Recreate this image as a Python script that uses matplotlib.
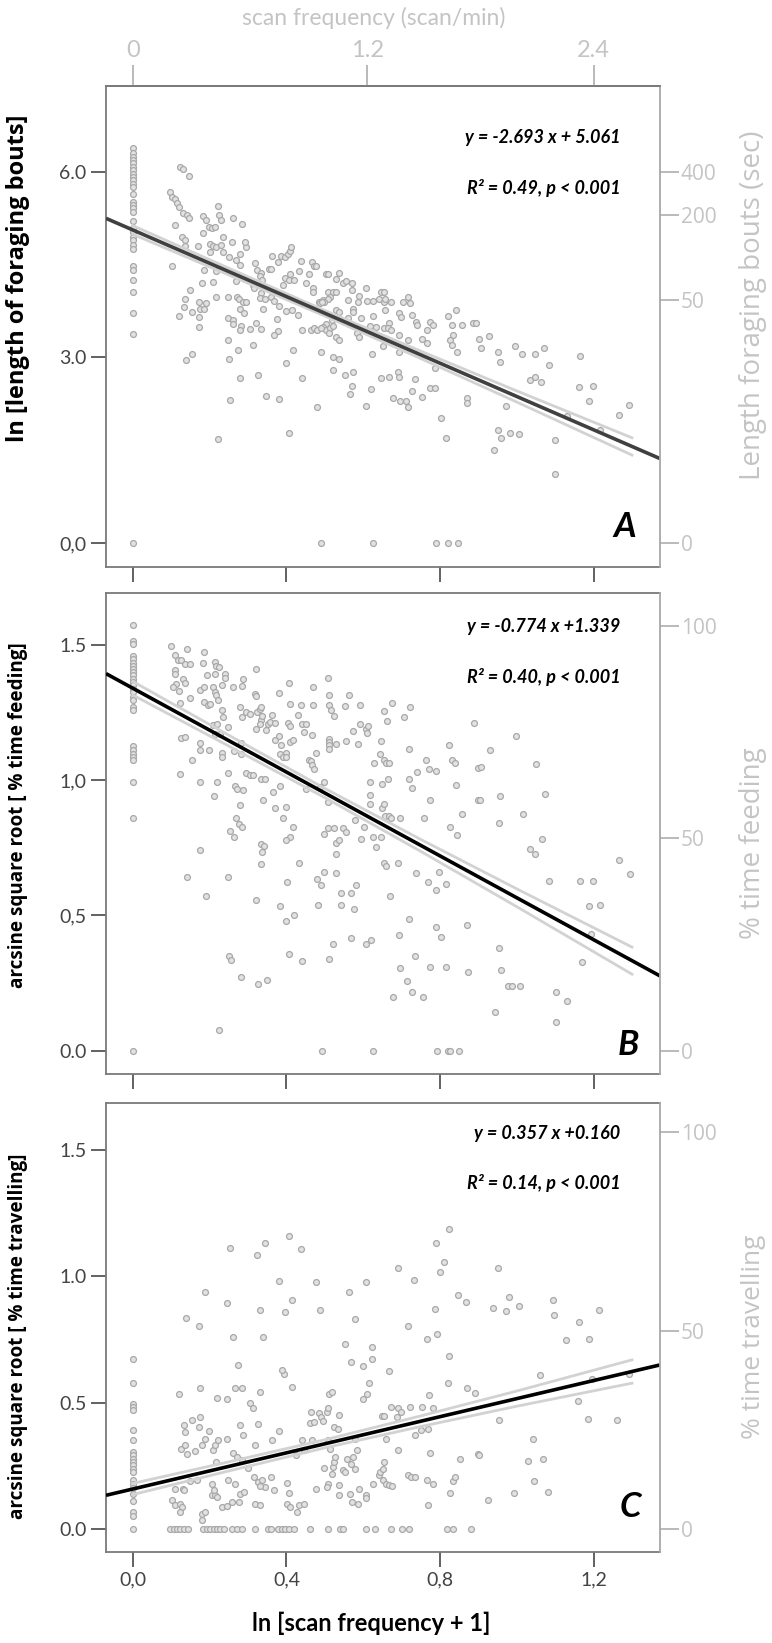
import numpy as np
import matplotlib.pyplot as plt

# ---------------- data ----------------
# x axis: ln[scan frequency + 1]

# panel A : ln[length of foraging bouts]
a_y_at_x0 = [6.38, 6.30, 6.24, 6.19, 6.14, 6.08, 6.03, 5.97, 5.92, 5.87, 5.81, 5.75, 5.65,
             5.52, 5.46, 5.41, 5.36, 5.21, 5.09, 5.03, 4.95, 4.90, 4.82, 4.75, 4.48, 4.41,
             4.25, 4.05, 3.72, 3.38, 0.0]
a_x_at_y0 = [0.491, 0.625, 0.790, 0.821, 0.847]
a_pts = [
    (0.122, 6.08), (0.130, 6.05), (0.145, 5.94), (0.098, 5.68), (0.102, 5.60), (0.109, 5.57),
    (0.114, 5.49), (0.120, 5.43), (0.130, 5.33), (0.140, 5.30), (0.147, 5.25), (0.109, 5.14),
    (0.128, 4.95), (0.135, 4.90), (0.137, 4.81), (0.102, 4.48),
    (0.182, 5.29), (0.191, 5.22), (0.198, 5.11), (0.206, 5.09), (0.215, 5.11), (0.221, 5.45),
    (0.224, 5.31), (0.230, 5.22), (0.182, 5.01), (0.170, 4.81), (0.200, 4.83), (0.208, 4.81),
    (0.217, 4.79), (0.202, 4.71), (0.230, 4.82), (0.236, 4.95), (0.260, 5.26), (0.285, 5.16),
    (0.259, 4.86), (0.234, 4.70), (0.250, 4.62), (0.269, 4.57), (0.278, 4.68), (0.295, 4.79),
    (0.291, 4.87), (0.184, 4.42), (0.217, 4.39), (0.208, 4.22), (0.181, 4.20), (0.148, 4.09),
    (0.135, 3.94), (0.133, 3.81), (0.120, 3.67), (0.153, 3.73), (0.172, 3.90), (0.191, 3.88),
    (0.175, 3.78), (0.186, 3.78), (0.172, 3.66), (0.172, 3.49), (0.139, 2.96), (0.153, 3.05),
    (0.217, 3.97), (0.247, 3.97), (0.221, 1.68),
    (0.269, 4.24), (0.278, 4.49), (0.272, 3.98), (0.276, 3.94), (0.286, 3.89), (0.295, 3.90),
    (0.280, 3.78), (0.289, 3.72), (0.247, 3.64), (0.262, 3.60), (0.262, 3.54), (0.282, 3.51),
    (0.278, 3.44), (0.304, 3.46), (0.247, 3.28), (0.250, 2.98), (0.275, 3.12), (0.313, 3.20),
    (0.280, 2.66), (0.254, 2.31), (0.326, 2.71), (0.346, 2.38), (0.380, 2.33), (0.406, 1.77),
    (0.400, 2.91), (0.417, 3.12), (0.440, 2.67), (0.479, 2.19), (0.489, 3.08), (0.521, 3.01),
    (0.537, 2.97), (0.521, 2.79), (0.553, 2.71), (0.573, 2.77), (0.571, 2.54), (0.566, 2.41),
    (0.608, 2.21), (0.620, 2.49), (0.623, 3.06), (0.645, 2.66), (0.667, 2.69), (0.690, 2.77),
    (0.692, 2.68), (0.677, 2.35), (0.695, 2.30),
    (0.319, 4.52), (0.324, 4.41), (0.335, 4.36), (0.330, 4.31), (0.337, 4.25), (0.362, 4.64),
    (0.354, 4.43), (0.360, 4.43), (0.378, 4.54), (0.387, 4.64), (0.395, 4.63), (0.404, 4.68),
    (0.408, 4.72), (0.412, 4.79), (0.439, 4.56), (0.466, 4.54), (0.472, 4.48), (0.478, 4.48),
    (0.460, 4.35), (0.434, 4.40), (0.410, 4.35), (0.395, 4.29), (0.406, 4.25), (0.419, 4.25),
    (0.392, 4.17), (0.450, 4.21), (0.313, 4.17), (0.315, 4.12), (0.334, 4.04), (0.330, 3.96),
    (0.343, 3.94), (0.360, 3.97), (0.367, 3.92), (0.380, 3.83), (0.400, 3.75), (0.414, 3.77),
    (0.430, 3.69), (0.339, 3.78), (0.375, 3.62), (0.378, 3.42), (0.367, 3.36), (0.334, 3.46),
    (0.321, 3.55), (0.441, 3.44), (0.465, 3.44), (0.473, 3.47), (0.469, 4.12), (0.469, 4.05),
    (0.486, 3.89), (0.495, 3.93), (0.504, 4.35), (0.508, 4.35), (0.536, 4.37), (0.528, 4.27),
    (0.547, 4.21), (0.556, 4.23), (0.571, 4.21), (0.508, 4.06), (0.521, 4.05), (0.528, 4.05),
    (0.514, 3.98), (0.508, 3.94), (0.498, 3.89), (0.488, 3.88), (0.492, 3.90), (0.561, 3.93),
    (0.571, 4.09), (0.573, 3.79), (0.573, 3.74), (0.589, 3.99), (0.586, 3.90), (0.608, 4.13),
    (0.610, 3.91), (0.625, 3.91), (0.641, 3.94), (0.647, 4.05), (0.653, 4.06), (0.655, 3.90),
    (0.658, 3.77), (0.673, 3.89), (0.658, 3.95), (0.625, 3.67), (0.593, 3.63), (0.560, 3.63),
    (0.530, 3.76), (0.537, 3.73), (0.518, 3.61), (0.502, 3.54), (0.495, 3.49), (0.504, 3.44),
    (0.514, 3.47), (0.521, 3.50), (0.529, 3.33), (0.538, 3.28), (0.479, 3.44), (0.490, 3.47),
    (0.510, 3.39), (0.583, 3.39), (0.589, 3.33), (0.617, 3.51), (0.634, 3.49), (0.653, 3.47),
    (0.667, 3.55), (0.664, 3.47), (0.673, 3.44), (0.651, 3.18), (0.693, 3.36), (0.693, 3.09),
    (0.692, 3.72), (0.699, 3.65),
    (0.717, 3.97), (0.722, 3.88), (0.704, 3.90), (0.726, 3.69), (0.737, 3.58), (0.739, 3.53),
    (0.717, 3.28), (0.753, 3.29), (0.765, 3.44), (0.774, 3.58), (0.783, 3.53), (0.765, 3.23),
    (0.822, 3.67), (0.841, 3.76), (0.830, 3.53), (0.856, 3.53), (0.835, 3.36), (0.826, 3.28),
    (0.830, 3.20), (0.843, 3.09), (0.885, 3.55), (0.894, 3.56), (0.902, 3.29), (0.906, 3.15),
    (0.928, 3.34), (0.952, 3.09), (0.955, 2.93), (0.995, 3.18), (1.013, 3.06), (1.047, 3.06),
    (1.072, 3.15), (1.084, 2.87), (1.165, 3.02), (1.162, 2.52), (1.198, 2.53), (1.189, 2.30),
    (1.265, 2.07), (1.293, 2.23), (0.735, 2.65), (0.726, 2.45), (0.711, 2.30), (0.717, 2.20),
    (0.752, 2.36), (0.774, 2.50), (0.787, 2.50), (0.787, 2.83), (0.803, 2.02), (0.815, 1.70),
    (0.871, 2.34), (0.871, 2.26), (0.973, 2.22), (1.034, 2.64), (1.047, 2.69), (1.062, 2.61),
    (0.952, 1.83), (0.960, 1.70), (0.982, 1.78), (1.007, 1.76), (0.941, 1.50), (1.099, 1.66),
    (1.099, 1.12), (1.130, 2.05), (1.217, 1.83),
]

# panel B : arcsine square root [% time feeding]
b_y_at_x0 = [1.571, 1.512, 1.504, 1.458, 1.446, 1.433, 1.421, 1.411, 1.399, 1.387, 1.374,
             1.362, 1.350, 1.338, 1.325, 1.307, 1.294, 1.270, 1.258, 1.126, 1.110, 1.098,
             1.085, 1.073, 0.993, 0.858, 0.0]
b_x_at_y0 = [0.492, 0.625, 0.792, 0.821, 0.825, 0.849]
b_pts = [
    (0.100, 1.494), (0.110, 1.461), (0.117, 1.445), (0.125, 1.442), (0.135, 1.430), (0.148, 1.430),
    (0.141, 1.485), (0.109, 1.408), (0.109, 1.393), (0.113, 1.354), (0.104, 1.344), (0.120, 1.329),
    (0.130, 1.374), (0.137, 1.358), (0.122, 1.285), (0.126, 1.157), (0.135, 1.159), (0.122, 1.024),
    (0.155, 1.073), (0.149, 1.304), (0.184, 1.473), (0.182, 1.432), (0.174, 1.334), (0.184, 1.344),
    (0.194, 1.387), (0.215, 1.436), (0.217, 1.420), (0.224, 1.416), (0.213, 1.393), (0.208, 1.344),
    (0.213, 1.325), (0.217, 1.313), (0.221, 1.294), (0.233, 1.350), (0.239, 1.390), (0.239, 1.378),
    (0.262, 1.344), (0.286, 1.374), (0.285, 1.346), (0.185, 1.288), (0.195, 1.276), (0.202, 1.282),
    (0.208, 1.202), (0.219, 1.208), (0.215, 1.171), (0.226, 1.171), (0.232, 1.260), (0.234, 1.233),
    (0.249, 1.196), (0.174, 1.137), (0.175, 1.110), (0.199, 1.112), (0.233, 1.100), (0.232, 1.085),
    (0.263, 1.106), (0.281, 1.098), (0.282, 1.138), (0.278, 1.270), (0.285, 1.233), (0.294, 1.251),
    (0.304, 1.243), (0.319, 1.317), (0.321, 1.309), (0.321, 1.411), (0.323, 1.251), (0.330, 1.264),
    (0.334, 1.270), (0.334, 1.221), (0.332, 1.208), (0.337, 1.236), (0.352, 1.208), (0.356, 1.214),
    (0.362, 1.239), (0.369, 1.212), (0.321, 1.190), (0.347, 1.184), (0.381, 1.322), (0.406, 1.358),
    (0.408, 1.282), (0.404, 1.212), (0.410, 1.200), (0.430, 1.239), (0.437, 1.276), (0.441, 1.206),
    (0.450, 1.208), (0.445, 1.178), (0.469, 1.276), (0.469, 1.344), (0.508, 1.378), (0.511, 1.313),
    (0.512, 1.276), (0.517, 1.258), (0.524, 1.235), (0.511, 1.153), (0.512, 1.141), (0.512, 1.128),
    (0.512, 1.116), (0.528, 1.132), (0.552, 1.274), (0.563, 1.315), (0.556, 1.144), (0.586, 1.134),
    (0.591, 1.276), (0.591, 1.206), (0.608, 1.190), (0.611, 1.174), (0.612, 1.200), (0.573, 1.181),
    (0.369, 1.147), (0.380, 1.162), (0.386, 1.128), (0.400, 1.100), (0.410, 1.141), (0.417, 1.147),
    (0.382, 1.098), (0.390, 1.085), (0.400, 1.085), (0.334, 1.005), (0.343, 1.005), (0.382, 0.977),
    (0.365, 0.956), (0.371, 0.897), (0.339, 0.928), (0.400, 0.901), (0.392, 0.861), (0.417, 0.827),
    (0.410, 0.790), (0.400, 0.780), (0.334, 0.765), (0.341, 0.755), (0.336, 0.735), (0.334, 0.689),
    (0.320, 0.556), (0.269, 0.858), (0.276, 0.839), (0.285, 0.827), (0.252, 0.812), (0.263, 0.790),
    (0.249, 0.642), (0.278, 0.907), (0.265, 0.977), (0.272, 0.968), (0.286, 0.965), (0.247, 1.026),
    (0.295, 1.027), (0.304, 1.018), (0.313, 1.018), (0.211, 0.940), (0.219, 0.993), (0.175, 0.993),
    (0.175, 0.741), (0.141, 0.640), (0.191, 0.571), (0.250, 0.349), (0.256, 0.337), (0.282, 0.271),
    (0.326, 0.246), (0.349, 0.261), (0.224, 0.076), (0.382, 0.535), (0.400, 0.479), (0.419, 0.503),
    (0.406, 0.356), (0.441, 0.332), (0.433, 0.692), (0.402, 0.624), (0.452, 0.968), (0.459, 1.075),
    (0.464, 1.069), (0.467, 1.055), (0.471, 1.039), (0.476, 1.100), (0.466, 1.165), (0.499, 0.993),
    (0.488, 0.975), (0.508, 0.919), (0.499, 0.802), (0.508, 0.824), (0.523, 0.824), (0.528, 0.768),
    (0.537, 0.778), (0.547, 0.821), (0.556, 0.808), (0.528, 0.725), (0.530, 0.657), (0.479, 0.636),
    (0.490, 0.612), (0.499, 0.661), (0.482, 0.540), (0.521, 0.393), (0.512, 0.338), (0.541, 0.581),
    (0.541, 0.540), (0.569, 0.581), (0.575, 0.525), (0.582, 0.612), (0.569, 0.415), (0.608, 0.396),
    (0.621, 0.409), (0.578, 0.854), (0.602, 0.827), (0.593, 0.781), (0.625, 0.790), (0.634, 0.753),
    (0.647, 0.790), (0.617, 0.913), (0.617, 0.944), (0.617, 0.993), (0.627, 1.063), (0.643, 1.098),
    (0.647, 1.143), (0.655, 1.075), (0.660, 1.063), (0.667, 1.063), (0.664, 1.005), (0.649, 0.987),
    (0.650, 0.897), (0.655, 0.910), (0.658, 0.866), (0.667, 0.866), (0.673, 0.858), (0.653, 0.694),
    (0.660, 0.682), (0.690, 0.694), (0.695, 0.858), (0.669, 0.571), (0.654, 1.255), (0.662, 1.218),
    (0.676, 1.285), (0.705, 1.233), (0.721, 1.270), (0.719, 1.116), (0.718, 1.005), (0.727, 0.971),
    (0.740, 1.030), (0.764, 1.073), (0.771, 1.042), (0.789, 1.034), (0.775, 0.928), (0.757, 0.858),
    (0.738, 0.657), (0.769, 0.624), (0.790, 0.593), (0.797, 0.661), (0.823, 1.128), (0.830, 1.075),
    (0.838, 1.063), (0.842, 0.981), (0.825, 0.827), (0.845, 0.796), (0.858, 0.876), (0.815, 0.615),
    (0.719, 0.485), (0.693, 0.429), (0.790, 0.458), (0.803, 0.421), (0.736, 0.349), (0.695, 0.304),
    (0.715, 0.258), (0.727, 0.218), (0.756, 0.199), (0.677, 0.197), (0.775, 0.310), (0.816, 0.310),
    (0.873, 0.292), (0.871, 0.464), (0.888, 1.211), (0.899, 1.046), (0.899, 0.925),
    (0.930, 1.112), (0.907, 1.048), (0.904, 0.925), (0.956, 0.940), (0.953, 0.843), (0.997, 1.163),
    (1.049, 1.058), (1.015, 0.874), (1.073, 0.950), (1.065, 0.784), (1.034, 0.747), (1.047, 0.728),
    (1.085, 0.628), (1.165, 0.628), (1.199, 0.628), (1.267, 0.706), (1.295, 0.652), (1.189, 0.534),
    (1.217, 0.538), (1.193, 0.433), (1.169, 0.326), (1.101, 0.218), (1.131, 0.185), (1.101, 0.107),
    (0.953, 0.381), (0.960, 0.300), (0.943, 0.142), (0.978, 0.239), (0.987, 0.239), (1.008, 0.239),
]

# panel C : arcsine square root [% time travelling]
c_y_at_x0 = [0.673, 0.577, 0.497, 0.484, 0.474, 0.392, 0.355, 0.306, 0.293, 0.280, 0.266,
             0.253, 0.240, 0.227, 0.197, 0.181, 0.165, 0.141, 0.112, 0.069, 0.055, 0.0]
c_x_at_y0 = [0.098, 0.107, 0.115, 0.124, 0.134, 0.143, 0.183, 0.192, 0.202, 0.211, 0.219,
             0.228, 0.237, 0.258, 0.270, 0.284, 0.319, 0.352, 0.360, 0.378, 0.388, 0.397,
             0.406, 0.419, 0.462, 0.508, 0.540, 0.547, 0.607, 0.631, 0.672, 0.700, 0.718,
             0.817, 0.833, 0.882]
c_pts = [
    (0.120, 0.537), (0.139, 0.834), (0.172, 0.805), (0.189, 0.939), (0.245, 0.896), (0.254, 1.113),
    (0.261, 0.761), (0.323, 1.084), (0.345, 1.131), (0.332, 0.867), (0.340, 0.761), (0.380, 0.982),
    (0.397, 0.858), (0.406, 1.161), (0.414, 0.906), (0.438, 1.109), (0.477, 0.976), (0.488, 0.869),
    (0.564, 0.939), (0.579, 0.831), (0.607, 0.979), (0.553, 0.732), (0.568, 0.662), (0.599, 0.645),
    (0.622, 0.722), (0.622, 0.672), (0.666, 0.627), (0.690, 1.032), (0.716, 0.805), (0.733, 0.985),
    (0.765, 0.752), (0.789, 1.131), (0.793, 0.774), (0.800, 1.016), (0.811, 1.058), (0.787, 0.873),
    (0.823, 1.187), (0.823, 0.686), (0.846, 0.926), (0.867, 0.897), (0.822, 0.579), (0.869, 0.557),
    (0.891, 0.540),
    (0.274, 0.649), (0.267, 0.557), (0.284, 0.557), (0.245, 0.517), (0.218, 0.521), (0.174, 0.557),
    (0.174, 0.445), (0.154, 0.431), (0.135, 0.385), (0.126, 0.319), (0.135, 0.335), (0.140, 0.299),
    (0.180, 0.332), (0.189, 0.359), (0.197, 0.389), (0.209, 0.313), (0.215, 0.332), (0.222, 0.352),
    (0.245, 0.359), (0.278, 0.412), (0.287, 0.372), (0.304, 0.500), (0.312, 0.478), (0.325, 0.416),
    (0.332, 0.544), (0.381, 0.388), (0.393, 0.616), (0.388, 0.629), (0.414, 0.563), (0.362, 0.352),
    (0.319, 0.335), (0.262, 0.302), (0.271, 0.286), (0.283, 0.273), (0.300, 0.244), (0.249, 0.194),
    (0.267, 0.178), (0.280, 0.141), (0.289, 0.148), (0.276, 0.108), (0.315, 0.207), (0.326, 0.187),
    (0.336, 0.194), (0.345, 0.168), (0.367, 0.154), (0.332, 0.170), (0.317, 0.102), (0.332, 0.095),
    (0.360, 0.207), (0.401, 0.183), (0.406, 0.144), (0.401, 0.102), (0.410, 0.088), (0.432, 0.095),
    (0.427, 0.069), (0.447, 0.102), (0.425, 0.296), (0.440, 0.352), (0.446, 0.315), (0.462, 0.421),
    (0.471, 0.425), (0.486, 0.460), (0.490, 0.445), (0.496, 0.427), (0.505, 0.464), (0.509, 0.480),
    (0.499, 0.244), (0.509, 0.181), (0.505, 0.168), (0.518, 0.220), (0.521, 0.247), (0.523, 0.266),
    (0.527, 0.286), (0.514, 0.319), (0.524, 0.405), (0.537, 0.451), (0.548, 0.236), (0.536, 0.135),
    (0.566, 0.141), (0.570, 0.108), (0.587, 0.102), (0.607, 0.135), (0.553, 0.227), (0.557, 0.277),
    (0.568, 0.260), (0.574, 0.286), (0.583, 0.313), (0.588, 0.161), (0.626, 0.181), (0.640, 0.214),
    (0.644, 0.227), (0.651, 0.240), (0.654, 0.266), (0.651, 0.197), (0.660, 0.181), (0.667, 0.174),
    (0.674, 0.170), (0.691, 0.315), (0.660, 0.359), (0.648, 0.447), (0.654, 0.447), (0.691, 0.480),
    (0.698, 0.464), (0.722, 0.484), (0.752, 0.484), (0.771, 0.530), (0.770, 0.396), (0.782, 0.480),
    (0.774, 0.302), (0.765, 0.197), (0.782, 0.178), (0.770, 0.095), (0.717, 0.214), (0.725, 0.207),
    (0.735, 0.207), (0.735, 0.372), (0.750, 0.394), (0.826, 0.144), (0.835, 0.191), (0.839, 0.207),
    (0.852, 0.280), (0.899, 0.299), (0.579, 0.359), (0.464, 0.464), (0.600, 0.517), (0.611, 0.537),
    (0.614, 0.577), (0.672, 0.484), (0.689, 0.445), (0.533, 0.398), (0.507, 0.352), (0.466, 0.352),
    (0.510, 0.537), (0.518, 0.544), (0.477, 0.161), (0.538, 0.174), (0.578, 0.240), (0.606, 0.124),
    (0.102, 0.115), (0.111, 0.095), (0.124, 0.102), (0.128, 0.088), (0.122, 0.069), (0.111, 0.161),
    (0.130, 0.158), (0.134, 0.154), (0.180, 0.062), (0.189, 0.069), (0.180, 0.038), (0.206, 0.181),
    (0.206, 0.135), (0.215, 0.135), (0.219, 0.128), (0.211, 0.154), (0.167, 0.194), (0.150, 0.191),
    (0.232, 0.088), (0.245, 0.091), (0.258, 0.108), (0.163, 0.310), (0.217, 0.266), (0.133, 0.412),
    (0.172, 0.405),
    (0.950, 1.034), (0.939, 0.877), (0.972, 0.864), (0.980, 0.920), (1.005, 0.883), (1.095, 0.906),
    (1.097, 0.847), (1.128, 0.748), (1.163, 0.821), (1.189, 0.751), (1.213, 0.869), (0.902, 0.296),
    (0.926, 0.115), (0.953, 0.434), (0.994, 0.145), (1.030, 0.269), (1.046, 0.191), (1.043, 0.359),
    (1.069, 0.280), (1.080, 0.150), (1.060, 0.609), (1.160, 0.508), (1.186, 0.438), (1.262, 0.431),
    (1.195, 0.596), (1.293, 0.616),
]

# fitted lines (from the equations printed in each panel)
slopes = [-2.693, -0.774, 0.357]
intercepts = [5.061, 1.339, 0.160]
eq_texts = ['y = -2.693 x + 5.061', 'y = -0.774 x +1.339', 'y = 0.357 x +0.160']
r2_texts = ['R² = 0.49, p < 0.001', 'R² = 0.40, p < 0.001', 'R² = 0.14, p < 0.001']
letters = ['A', 'B', 'C']

# 95% band half widths
ci_x = [0.0, 0.25, 0.5, 0.75, 1.0, 1.3]
ci_half = [
    [0.07, 0.055, 0.045, 0.06, 0.09, 0.14],
    [0.025, 0.02, 0.017, 0.022, 0.033, 0.05],
    [0.022, 0.018, 0.016, 0.021, 0.03, 0.046],
]

x_ticks = [0.0, 0.4, 0.8, 1.2]
x_ticklabels = ['0,0', '0,4', '0,8', '1,2']
top_tick_pos = [0.0, 0.61, 1.2]
top_ticklabels = ['0', '1.2', '2.4']

y_ticks = [[0.0, 3.0, 6.0], [0.0, 0.5, 1.0, 1.5], [0.0, 0.5, 1.0, 1.5]]
y_ticklabels = [['0,0', '3.0', '6.0'], ['0.0', '0,5', '1,0', '1.5'], ['0.0', '0.5', '1.0', '1.5']]

a_right_vals = [0, 50, 200, 400]        # seconds
pct_right_vals = [0, 50, 100]           # percent

left_labels = ['ln [length of foraging bouts]',
               'arcsine square root [ % time feeding]',
               'arcsine square root [ % time travelling]']
right_labels = ['Length foraging bouts (sec)', '% time feeding', '% time travelling']

# ---------------- layout ----------------
W, H = 772, 1643
fig = plt.figure(figsize=(W / 100, H / 100), dpi=100)


def rect(left, top, right, bottom):
    return [left / W, 1 - bottom / H, (right - left) / W, (bottom - top) / H]


axes_rects = [rect(106, 86, 660, 567), rect(106, 593, 660, 1074), rect(106, 1103, 660, 1552)]
ylims = [(-0.39, 7.39), (-0.086, 1.691), (-0.089, 1.685)]
xlim = (-0.070, 1.373)
eq_y = [(0.893, 0.788), (0.931, 0.825), (0.933, 0.822)]
letter_pos = [(0.937, 0.084), (0.942, 0.060), (0.946, 0.101)]
left_label_y = [278, 815, 1336]
left_label_size = [17, 13.6, 13.6]
right_label_y = [305, 843, 1337]
right_label_size = [20, 20, 19]

narrow = ['Lato', 'DejaVu Sans']
soft = ['Open Sans', 'DejaVu Sans']
light_gray = '#c4c4c4'
frame_col = '#7a7a7a'

all_pts = [a_pts, b_pts, c_pts]
col0 = [a_y_at_x0, b_y_at_x0, c_y_at_x0]
row0 = [a_x_at_y0, b_x_at_y0, c_x_at_y0]

for i in range(3):
    ax = fig.add_axes(axes_rects[i])
    pts = np.array(all_pts[i])
    xs = np.concatenate([pts[:, 0], np.zeros(len(col0[i])), np.array(row0[i])])
    ys = np.concatenate([pts[:, 1], np.array(col0[i]), np.zeros(len(row0[i]))])
    ax.scatter(xs, ys, s=18, facecolors='#e2e2e2', edgecolors='#a8a8a8',
               linewidths=0.9, zorder=2)

    # confidence band lines
    cx = np.array(ci_x)
    fit_c = slopes[i] * cx + intercepts[i]
    hw = np.array(ci_half[i])
    ax.plot(cx, fit_c + hw, color='#d2d2d2', lw=2.0, zorder=3)
    ax.plot(cx, fit_c - hw, color='#d2d2d2', lw=2.0, zorder=3)

    # regression line
    lx = np.array(xlim)
    ax.plot(lx, slopes[i] * lx + intercepts[i], color='#404040' if i == 0 else 'black',
            lw=2.6, zorder=4, solid_capstyle='butt')

    ax.set_xlim(xlim)
    ax.set_ylim(ylims[i])
    ax.set_xticks(x_ticks)
    if i == 2:
        ax.set_xticklabels(x_ticklabels, family=narrow, fontsize=14, color='#444444')
    else:
        ax.set_xticklabels([])
    ax.set_yticks(y_ticks[i])
    ax.set_yticklabels(y_ticklabels[i], family=narrow, fontsize=14, color='#444444')
    ax.tick_params(direction='out', length=11, width=1.3, color='#555555', pad=3)
    for side in ['left', 'bottom', 'top']:
        ax.spines[side].set_color(frame_col)
        ax.spines[side].set_linewidth(1.3)
    ax.spines['right'].set_visible(False)

    # right axis (back-transformed scale)
    rax = ax.twinx()
    rax.set_ylim(ylims[i])
    if i == 0:
        vals = np.array(a_right_vals, dtype=float)
        rax.set_yticks(np.log(vals + 1))
    else:
        vals = np.array(pct_right_vals, dtype=float)
        rax.set_yticks(np.arcsin(np.sqrt(vals / 100)))
    rax.set_yticklabels([str(int(v)) for v in vals], family=soft, fontsize=15,
                        color=light_gray)
    rax.tick_params(direction='out', length=14, width=1.3, color='#b4b4b4', pad=1)
    for side in ['left', 'bottom', 'top']:
        rax.spines[side].set_visible(False)
    rax.spines['right'].set_color('#a8a8a8')
    rax.spines['right'].set_linewidth(1.3)

    # top axis on panel A (scan frequency in scan/min)
    if i == 0:
        tax = ax.twiny()
        tax.set_xlim(xlim)
        tax.set_xticks(top_tick_pos)
        tax.set_xticklabels(top_ticklabels, family=narrow, fontsize=17, color=light_gray)
        tax.tick_params(direction='out', length=15, width=1.3, color='#b4b4b4', pad=3)
        for side in ['left', 'bottom', 'right']:
            tax.spines[side].set_visible(False)
        tax.spines['top'].set_color(frame_col)
        tax.spines['top'].set_linewidth(1.3)

    ax.text(0.929, eq_y[i][0], eq_texts[i], transform=ax.transAxes, ha='right', va='center',
            family=narrow, fontsize=13, fontweight='bold', style='italic', zorder=6)
    ax.text(0.929, eq_y[i][1], r2_texts[i], transform=ax.transAxes, ha='right', va='center',
            family=narrow, fontsize=13, fontweight='bold', style='italic', zorder=6)
    ax.text(letter_pos[i][0], letter_pos[i][1], letters[i], transform=ax.transAxes,
            ha='center', va='center', family=narrow, fontsize=25, fontweight='bold',
            style='italic', zorder=6)

    fig.text(18 / W, 1 - left_label_y[i] / H, left_labels[i], rotation=90, ha='center',
             va='center', family=soft, fontsize=left_label_size[i], fontweight='bold',
             color='black')
    fig.text(753 / W, 1 - right_label_y[i] / H, right_labels[i], rotation=90, ha='center',
             va='center', family=soft, fontsize=right_label_size[i], color=light_gray)

fig.text(374 / W, 1 - 18 / H, 'scan frequency (scan/min)', ha='center', va='center',
         family=narrow, fontsize=16.5, color=light_gray)
fig.text(371 / W, 1 - 1623 / H, 'ln [scan frequency + 1]', ha='center', va='center',
         family=narrow, fontsize=17, fontweight='bold', color='black')

fig.savefig('out.png', dpi=100)
